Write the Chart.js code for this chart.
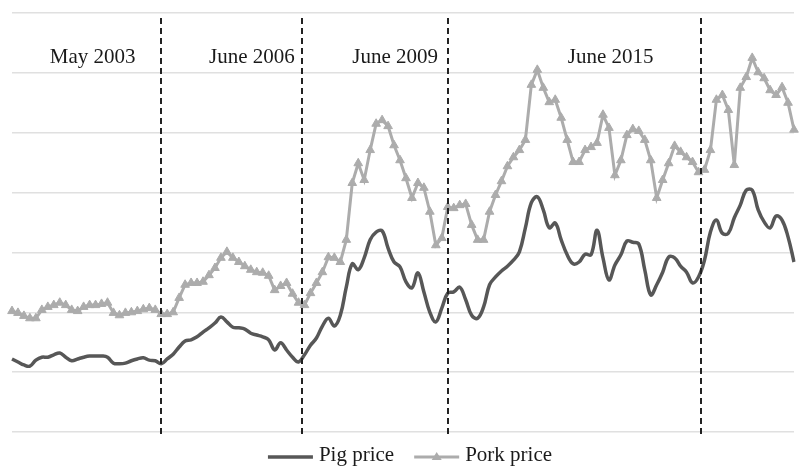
<!DOCTYPE html>
<html>
<head>
<meta charset="utf-8">
<script src="https://cdn.jsdelivr.net/npm/chart.js@4"></script>
<style>
  html, body { margin: 0; padding: 0; background: #fff; }
  #wrap { width: 800px; height: 467px; }
</style>
</head>
<body>
<div id="wrap"><canvas id="priceChart"></canvas></div>
<script>
// Pig and pork prices, one reading per period
const pigPrice = [
  12.2, 11.7, 11.2, 11.0, 12.0, 12.5, 12.5, 12.9, 13.2, 12.5,
  11.9, 12.2, 12.5, 12.7, 12.7, 12.7, 12.5, 11.5, 11.4, 11.5,
  11.9, 12.2, 12.4, 12.0, 11.9, 11.4, 12.2, 13.0, 14.2, 15.2,
  15.4, 15.9, 16.7, 17.4, 18.2, 19.2, 18.4, 17.5, 17.4, 17.2,
  16.5, 16.2, 15.9, 15.4, 13.7, 14.9, 13.7, 12.5, 11.7, 12.9,
  14.5, 15.7, 17.7, 19.0, 17.7, 19.5, 24.2, 28.1, 27.1, 29.1,
  32.1, 33.4, 33.6, 30.7, 28.4, 27.6, 25.1, 24.1, 26.6, 23.4,
  20.0, 18.4, 20.7, 23.2, 23.4, 24.2, 22.1, 19.5, 19.0, 20.9,
  24.6, 25.9, 26.9, 27.7, 28.7, 30.1, 34.1, 38.3, 39.3, 37.1,
  34.1, 34.9, 32.1, 29.6, 28.1, 28.4, 29.7, 29.6, 33.7, 29.1,
  25.4, 27.9, 29.6, 31.9, 31.7, 31.4, 27.1, 22.9, 24.6, 26.7,
  29.2, 29.1, 27.7, 26.7, 24.9, 25.9, 28.7, 33.4, 35.4, 33.2,
  33.2, 35.8, 37.9, 40.4, 40.4, 37.1, 35.1, 34.1, 36.1, 35.4,
  32.6, 28.4
];
const porkPrice = [
  20.2, 19.9, 19.4, 19.0, 19.0, 20.4, 20.9, 21.2, 21.6, 21.2,
  20.4, 20.2, 20.9, 21.2, 21.2, 21.4, 21.6, 19.9, 19.5, 19.9,
  20.0, 20.2, 20.5, 20.7, 20.4, 19.7, 19.7, 20.0, 22.4, 24.6,
  24.9, 24.9, 25.1, 26.2, 27.4, 29.1, 30.1, 29.1, 28.4, 27.7,
  27.1, 26.7, 26.6, 26.1, 23.7, 24.4, 24.9, 23.1, 21.6, 21.2,
  23.2, 24.9, 26.7, 29.2, 29.1, 28.4, 32.1, 41.6, 44.9, 42.1,
  47.1, 51.5, 52.1, 51.1, 47.9, 45.4, 42.4, 39.1, 41.6, 40.8,
  36.8, 31.2, 32.4, 37.6, 37.4, 37.9, 38.1, 34.6, 32.1, 32.1,
  36.8, 39.6, 41.9, 44.4, 45.9, 47.1, 48.8, 58.0, 60.5, 57.5,
  55.1, 55.5, 52.5, 48.8, 45.1, 45.1, 47.1, 47.6, 48.3, 53.0,
  50.8, 42.9, 45.4, 49.6, 50.6, 50.3, 48.8, 45.4, 39.1, 42.1,
  44.9, 47.8, 46.8, 45.9, 45.1, 43.4, 43.8, 47.1, 55.5, 56.3,
  53.8, 44.6, 57.5, 59.3, 62.5, 60.1, 59.1, 57.1, 56.3, 57.6,
  55.0, 50.5
];
const periods = pigPrice.map((_, i) => 'P' + (i + 1));

// cycle boundaries (dashed lines) and cycle names, as positions on the period axis
const cycleBreaks = [25, 48.5, 73, 115.5];
const cycleLabels = ['May 2003', 'June 2006', 'June 2009', 'June 2015'];
const cycleLabelAt = [13.5, 40.2, 64.2, 100.3];
const cycleLabelLevel = 61.7;

const serif = '"Liberation Serif", "Times New Roman", serif';

const cyclePlugin = {
  id: 'cycles',
  afterDatasetsDraw(chart) {
    const { ctx, chartArea, scales: { x, y } } = chart;
    ctx.save();

    // dashed cycle separators
    ctx.strokeStyle = '#222';
    ctx.lineWidth = 2;
    ctx.setLineDash([6, 4]);
    cycleBreaks.forEach(b => {
      const px = Math.round(x.getPixelForValue(b));
      ctx.beginPath();
      ctx.moveTo(px, chartArea.top + 5);
      ctx.lineTo(px, chartArea.bottom + 5);
      ctx.stroke();
    });
    ctx.setLineDash([]);

    // cycle names
    ctx.font = '21px ' + serif;
    ctx.fillStyle = '#1a1a1a';
    ctx.textAlign = 'center';
    ctx.textBaseline = 'alphabetic';
    cycleLabels.forEach((t, i) => {
      ctx.fillText(t, x.getPixelForValue(cycleLabelAt[i]), y.getPixelForValue(cycleLabelLevel));
    });

    // legend: line sample + name, centred under the plot
    const sampleW = 45, gap = 6, itemGap = 20, legendY = 455;
    const items = chart.data.datasets.map(ds => ({
      ds, w: sampleW + gap + ctx.measureText(ds.label).width
    }));
    const total = items.reduce((s, it) => s + it.w, 0) + itemGap * (items.length - 1);
    let lx = 410 - total / 2;
    ctx.textAlign = 'left';
    ctx.textBaseline = 'middle';
    items.forEach(({ ds, w }) => {
      ctx.strokeStyle = ds.borderColor;
      ctx.lineWidth = ds.borderWidth;
      ctx.beginPath();
      ctx.moveTo(lx, legendY + 2);
      ctx.lineTo(lx + sampleW, legendY + 2);
      ctx.stroke();
      if (ds.pointRadius > 0) {
        const cx = lx + sampleW / 2, r = 5;
        ctx.fillStyle = ds.pointBackgroundColor;
        ctx.beginPath();
        ctx.moveTo(cx, legendY + 2 - r);
        ctx.lineTo(cx + r, legendY + 2 + r * 0.6);
        ctx.lineTo(cx - r, legendY + 2 + r * 0.6);
        ctx.closePath();
        ctx.fill();
      }
      ctx.fillStyle = '#1a1a1a';
      ctx.fillText(ds.label, lx + sampleW + gap, legendY);
      lx += w + itemGap;
    });

    ctx.restore();
  }
};

const ctx = document.getElementById('priceChart').getContext('2d');
new Chart(ctx, {
  type: 'line',
  data: {
    labels: periods,
    datasets: [{
      label: 'Pig price',
      data: pigPrice,
      borderColor: '#575757',
      borderWidth: 3.5,
      pointRadius: 0,
      tension: 0.4
    }, {
      label: 'Pork price',
      data: porkPrice,
      borderColor: '#acacac',
      borderWidth: 3,
      pointStyle: 'triangle',
      pointRadius: 5,
      pointBackgroundColor: '#acacac',
      pointBorderColor: '#acacac',
      pointBorderWidth: 1,
      tension: 0
    }]
  },
  options: {
    responsive: true,
    maintainAspectRatio: false,
    animation: false,
    layout: { padding: { left: 12, right: 0, top: 13, bottom: 35 } },
    plugins: {
      legend: { display: false },
      tooltip: { enabled: false }
    },
    scales: {
      x: { display: false },
      y: {
        min: 0,
        max: 70,
        ticks: { display: false, stepSize: 10 },
        border: { display: false },
        grid: { color: '#e0e0e0', lineWidth: 1.5, drawTicks: false }
      }
    }
  },
  plugins: [cyclePlugin]
});
</script>
</body>
</html>
